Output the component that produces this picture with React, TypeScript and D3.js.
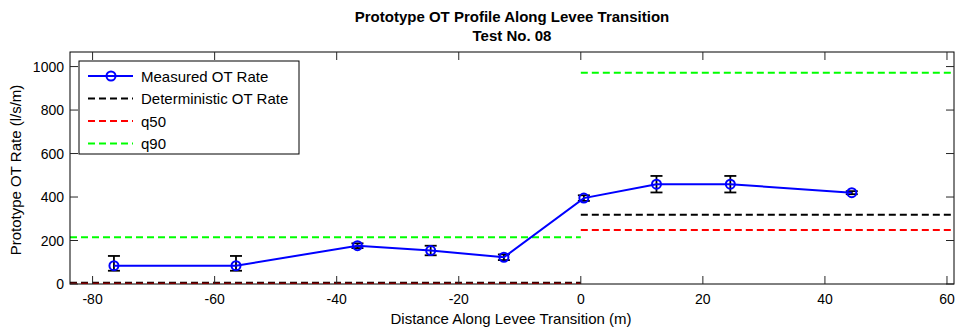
import React from "react";
import * as d3 from "d3";

// Measured overtopping rates along the levee transition
const distances = [-76.5, -56.5, -36.6, -24.6, -12.6, 0.5, 12.4, 24.5, 44.4];
const otRates = [84, 84, 176, 154, 123, 395, 459, 459, 420];
const errLower = [23, 23, 11, 22, 13, 13, 38, 38, 7];
const errUpper = [45, 45, 11, 22, 13, 13, 38, 38, 7];

// Reference levels: [x0, x1, value] for each side of the transition
const deterministicSegments = [
  [-83.7, 0, 6],
  [0, 61.15, 319],
];
const q50Segments = [
  [-83.7, 0, 1],
  [0, 61.15, 248],
];
const q90Segments = [
  [-83.7, 0, 215],
  [0, 61.15, 972],
];

const xTicks = [-80, -60, -40, -20, 0, 20, 40, 60];
const yTicks = [0, 200, 400, 600, 800, 1000];

const legendLabels = ["Measured OT Rate", "Deterministic OT Rate", "q50", "q90"];

const W = 959;
const H = 331;
const M = { left: 70, right: 954, top: 52, bottom: 284 };
const FONT = "'Liberation Sans', Arial, Helvetica, sans-serif";

export default function App() {
  const x = d3.scaleLinear().domain([-83.7, 61.15]).range([M.left, M.right]);
  const y = d3.scaleLinear().domain([0, 1067]).range([M.bottom, M.top]);

  const line = d3
    .line<number>()
    .x((_, i) => x(distances[i]))
    .y((d) => y(d));

  const tickLen = 8;
  const capHalf = 6;

  const refLines = [
    { segs: deterministicSegments, color: "#000000" },
    { segs: q90Segments, color: "#00ff00" },
    { segs: q50Segments, color: "#ff0000" },
  ];

  const legendX = 79;
  const legendY = 61;
  const legendW = 220;
  const legendH = 93;
  const rowY = [76, 98.5, 121, 143.5];
  const legendColors = ["#0000ff", "#000000", "#ff0000", "#00ff00"];

  return (
    <svg
      width={W}
      height={H}
      style={{ position: "absolute", left: 0, top: 0, background: "#fff" }}
      fontFamily={FONT}
    >
      <rect x={0} y={0} width={W} height={H} fill="#fff" />

      {/* Title */}
      <text x={512} y={21.5} textAnchor="middle" fontSize={15} fontWeight="bold" fill="#000">
        Prototype OT Profile Along Levee Transition
      </text>
      <text x={512} y={40.5} textAnchor="middle" fontSize={15} fontWeight="bold" fill="#000">
        Test No. 08
      </text>

      <defs>
        <clipPath id="plotClip">
          <rect x={M.left} y={M.top} width={M.right - M.left} height={M.bottom - M.top} />
        </clipPath>
      </defs>

      {/* Reference levels */}
      <g clipPath="url(#plotClip)">
        {refLines.map((r, k) =>
          r.segs.map((s, i) => (
            <line
              key={`${k}-${i}`}
              x1={x(s[0])}
              x2={x(s[1])}
              y1={y(s[2])}
              y2={y(s[2])}
              stroke={r.color}
              strokeWidth={2}
              strokeDasharray="7,4"
            />
          ))
        )}
      </g>

      {/* Error bars */}
      <g stroke="#000" strokeWidth={1.8}>
        {distances.map((d, i) => {
          const cx = x(d);
          const top = y(otRates[i] + errUpper[i]);
          const bot = y(otRates[i] - errLower[i]);
          return (
            <g key={i}>
              <line x1={cx} x2={cx} y1={top} y2={bot} />
              <line x1={cx - capHalf} x2={cx + capHalf} y1={top} y2={top} />
              <line x1={cx - capHalf} x2={cx + capHalf} y1={bot} y2={bot} />
            </g>
          );
        })}
      </g>

      {/* Measured line and markers */}
      <path d={line(otRates) || ""} fill="none" stroke="#0000ff" strokeWidth={2} />
      {distances.map((d, i) => (
        <circle
          key={i}
          cx={x(d)}
          cy={y(otRates[i])}
          r={4.5}
          fill="none"
          stroke="#0000ff"
          strokeWidth={2}
        />
      ))}

      {/* Axes box and ticks */}
      <rect
        x={M.left}
        y={M.top}
        width={M.right - M.left}
        height={M.bottom - M.top}
        fill="none"
        stroke="#000"
        strokeWidth={1}
      />
      <g stroke="#262626" strokeWidth={1}>
        {xTicks.map((t) => (
          <g key={t}>
            <line x1={x(t)} x2={x(t)} y1={M.bottom} y2={M.bottom - tickLen} />
            <line x1={x(t)} x2={x(t)} y1={M.top} y2={M.top + tickLen} />
          </g>
        ))}
        {yTicks.map((t) => (
          <g key={t}>
            <line x1={M.left} x2={M.left + tickLen} y1={y(t)} y2={y(t)} />
            <line x1={M.right} x2={M.right - tickLen} y1={y(t)} y2={y(t)} />
          </g>
        ))}
      </g>

      {/* Tick labels */}
      <g fontSize={14} fill="#000">
        {xTicks.map((t) => (
          <text key={t} x={x(t)} y={M.bottom + 20} textAnchor="middle">
            {t}
          </text>
        ))}
        {yTicks.map((t) => (
          <text key={t} x={M.left - 6} y={y(t) + 5} textAnchor="end">
            {t}
          </text>
        ))}
      </g>

      {/* Axis labels */}
      <text x={511} y={324} textAnchor="middle" fontSize={15} fill="#000">
        Distance Along Levee Transition (m)
      </text>
      <text
        transform={`translate(21,170) rotate(-90)`}
        textAnchor="middle"
        fontSize={15}
        fill="#000"
      >
        Prototype OT Rate (l/s/m)
      </text>

      {/* Legend */}
      <rect x={legendX} y={legendY} width={legendW} height={legendH} fill="#fff" stroke="#000" strokeWidth={1} />
      {legendLabels.map((lab, i) => (
        <g key={lab}>
          <line
            x1={88}
            x2={133}
            y1={rowY[i]}
            y2={rowY[i]}
            stroke={legendColors[i]}
            strokeWidth={2}
            strokeDasharray={i === 0 ? undefined : "7,4"}
          />
          {i === 0 && (
            <circle cx={111} cy={rowY[i]} r={4.5} fill="none" stroke="#0000ff" strokeWidth={2} />
          )}
          <text x={141} y={rowY[i] + 5.5} fontSize={15} fill="#000">
            {lab}
          </text>
        </g>
      ))}
    </svg>
  );
}
